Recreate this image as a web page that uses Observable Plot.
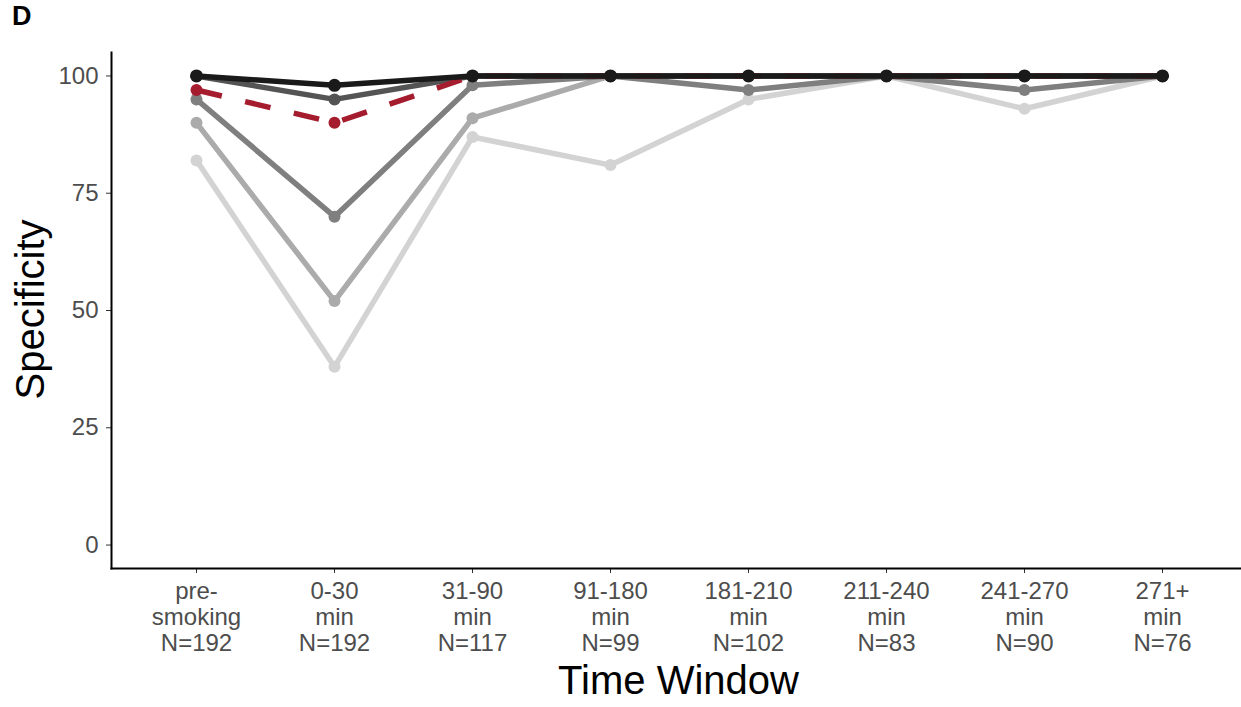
<!DOCTYPE html>
<html>
<head>
<meta charset="utf-8">
<script src="https://cdn.jsdelivr.net/npm/d3@7"></script>
<script src="https://cdn.jsdelivr.net/npm/@observablehq/plot@0.6"></script>
<style>
  html, body { margin: 0; padding: 0; background: #fff; }
  #wrap { position: relative; width: 1241px; height: 707px; font-family: "Liberation Sans", Arial, sans-serif; }
  #panel { position: absolute; left: 12px; top: 0px; font-size: 27px; line-height: 32px; font-weight: bold; color: #000; z-index: 2; }
</style>
</head>
<body>
<div id="wrap"><div id="panel">D</div></div>
<script>
// Categories (time windows) and their axis labels
const windows = ["pre-smoking", "0-30 min", "31-90 min", "91-180 min", "181-210 min", "211-240 min", "241-270 min", "271+ min"];
const windowLabels = ["pre-\nsmoking\nN=192", "0-30\nmin\nN=192", "31-90\nmin\nN=117", "91-180\nmin\nN=99", "181-210\nmin\nN=102", "211-240\nmin\nN=83", "241-270\nmin\nN=90", "271+\nmin\nN=76"];
const yTicks = [0, 25, 50, 75, 100];

// Series values (specificity, %)
const seriesA = [82, 38, 87, 81, 95, 100, 93, 100];
const seriesB = [90, 52, 91, 100, 100, 100, 100, 100];
const seriesC = [95, 70, 98, 100, 97, 100, 97, 100];
const seriesD = [100, 95, 100, 100, 100, 100, 100, 100];
const seriesRed = [97, 90, 100, 100, 100, 100, 100, 100];
const seriesBlack = [100, 98, 100, 100, 100, 100, 100, 100];

const seriesDefs = [
  {name: "A", values: seriesA, color: "#d3d3d3", dash: null, r: 6},
  {name: "B", values: seriesB, color: "#ababab", dash: null, r: 6},
  {name: "C", values: seriesC, color: "#7f7f7f", dash: null, r: 6},
  {name: "D", values: seriesD, color: "#545454", dash: null, r: 6},
  {name: "Red", values: seriesRed, color: "#a51c2e", dash: "26,24", r: 6},
  {name: "Black", values: seriesBlack, color: "#1a1a1a", dash: null, r: 6.5}
];

const labelOf = new Map(windows.map((w, i) => [w, windowLabels[i]]));

const marks = [];
for (const s of seriesDefs) {
  const rows = s.values.map((v, i) => ({window: windows[i], value: v}));
  marks.push(Plot.line(rows, {x: "window", y: "value", stroke: s.color, strokeWidth: 5.5, strokeDasharray: s.dash, strokeLinecap: "butt", strokeLinejoin: "round"}));
  marks.push(Plot.dot(rows, {x: "window", y: "value", fill: s.color, r: s.r, stroke: "none"}));
}

const chart = Plot.plot({
  width: 1241,
  height: 707,
  marginLeft: 111,
  marginRight: 0,
  marginTop: 52,
  marginBottom: 139,
  style: {fontFamily: "'Liberation Sans', Arial, sans-serif", background: "transparent"},
  x: {type: "point", domain: windows, range: [195, 1163], padding: 0},
  y: {domain: [-5, 105]},
  marks: [
    Plot.axisY({ticks: yTicks, tickSize: 5, tickPadding: 8, fontSize: 24, color: "#4d4d4d", stroke: "#333", label: null}),
    Plot.axisX({ticks: windows, tickSize: 5, tickPadding: 7, fontSize: 24, lineHeight: 1.09, color: "#4d4d4d", stroke: "#333", label: null, tickFormat: d => labelOf.get(d)}),
    Plot.frame({anchor: "left", stroke: "#000", strokeWidth: 2}),
    Plot.frame({anchor: "bottom", stroke: "#000", strokeWidth: 2}),
    ...marks,
    Plot.text(["Specificity"], {frameAnchor: "left", dx: -80, dy: -1, rotate: -90, textAnchor: "middle", lineAnchor: "middle", fontSize: 40, fill: "#000"}),
    Plot.text(["Time Window"], {frameAnchor: "bottom", dx: 2, dy: 113, textAnchor: "middle", lineAnchor: "middle", fontSize: 40, fill: "#000"})
  ]
});
document.getElementById("wrap").appendChild(chart);
</script>
</body>
</html>
